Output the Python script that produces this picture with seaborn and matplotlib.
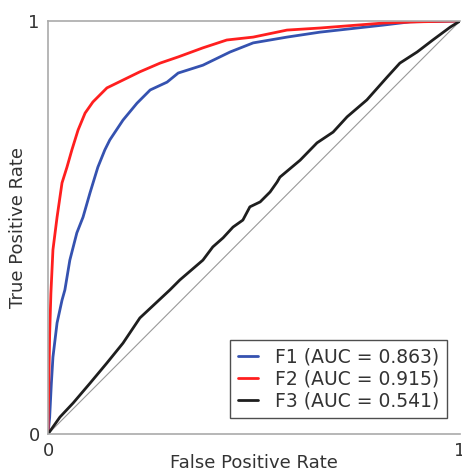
import pandas as pd
import matplotlib
matplotlib.use('Agg')
import matplotlib.pyplot as plt
import seaborn as sns

BLUE = '#3552b0'
RED = '#ff1f1f'
BLACK = '#1e1e1e'
GRAY = '#aaaaaa'

# ROC points (FPR, TPR)
f1_fpr = [0.0, 0.004, 0.008, 0.012, 0.022, 0.034, 0.041, 0.053, 0.070, 0.085, 0.102,
          0.121, 0.138, 0.150, 0.182, 0.216, 0.248, 0.289, 0.316, 0.376, 0.442,
          0.498, 0.580, 0.660, 0.813, 0.879, 1.0]
f1_tpr = [0.0, 0.04, 0.12, 0.186, 0.269, 0.324, 0.349, 0.421, 0.487, 0.525, 0.584,
          0.646, 0.688, 0.712, 0.760, 0.801, 0.833, 0.852, 0.874, 0.893, 0.925,
          0.947, 0.961, 0.973, 0.990, 0.998, 1.0]

f2_fpr = [0.0, 0.002, 0.004, 0.007, 0.012, 0.022, 0.034, 0.046, 0.058, 0.073, 0.090,
          0.109, 0.143, 0.182, 0.223, 0.272, 0.316, 0.376, 0.434, 0.498, 0.580,
          0.660, 0.813, 0.896, 1.0]
f2_tpr = [0.0, 0.12, 0.24, 0.340, 0.446, 0.525, 0.608, 0.646, 0.688, 0.736, 0.777,
          0.804, 0.838, 0.857, 0.877, 0.898, 0.913, 0.935, 0.954, 0.961, 0.978,
          0.983, 0.995, 0.998, 1.0]

f3_fpr = [0.0, 0.029, 0.061, 0.102, 0.143, 0.182, 0.223, 0.296, 0.320, 0.376, 0.400,
          0.425, 0.449, 0.473, 0.490, 0.515, 0.539, 0.556, 0.563, 0.612, 0.653,
          0.692, 0.726, 0.774, 0.823, 0.854, 0.896, 0.934, 0.976, 1.0]
f3_tpr = [0.0, 0.041, 0.075, 0.123, 0.172, 0.220, 0.281, 0.349, 0.373, 0.421, 0.453,
          0.475, 0.501, 0.518, 0.550, 0.562, 0.586, 0.610, 0.622, 0.663, 0.705,
          0.731, 0.768, 0.809, 0.864, 0.898, 0.925, 0.954, 0.985, 1.0]

labels = ['F1 (AUC = 0.863)', 'F2 (AUC = 0.915)', 'F3 (AUC = 0.541)']

sns.set_theme(style='white')
plt.rcParams['font.family'] = ['DejaVu Sans']

fig = plt.figure(figsize=(4.62, 4.73), dpi=100)
ax = fig.add_axes([48 / 462, 39 / 473, 412 / 462, 413 / 473])

ax.plot([0, 1], [0, 1], color='#999999', linewidth=0.8, zorder=1)

for fpr, tpr, col, lab in zip([f1_fpr, f2_fpr, f3_fpr], [f1_tpr, f2_tpr, f3_tpr],
                              [BLUE, RED, BLACK], labels):
    df = pd.DataFrame({'fpr': fpr, 'tpr': tpr})
    sns.lineplot(data=df, x='fpr', y='tpr', color=col, linewidth=2.0,
                 sort=False, estimator=None, label=lab, ax=ax)

ax.set_xlim(0, 1)
ax.set_ylim(0, 1)
ax.set_xticks([0, 1])
ax.set_yticks([0, 1])
ax.set_xticklabels(['0', '1'])
ax.set_yticklabels(['0', '1'])
ax.tick_params(axis='both', length=0, labelsize=13, colors='#333333')
ax.tick_params(axis='x', pad=6)
ax.tick_params(axis='y', pad=6)

ax.set_xlabel('False Positive Rate', fontsize=13, color='#333333')
ax.set_ylabel('True Positive Rate', fontsize=13, color='#333333')
ax.xaxis.set_label_coords(0.5, -29 / 413, transform=ax.transAxes)
ax.yaxis.set_label_coords(-30 / 412, 0.5, transform=ax.transAxes)
ax.xaxis.label.set_va('center')
ax.yaxis.label.set_va('center')

for side in ['left', 'top', 'bottom']:
    ax.spines[side].set_color(GRAY)
    ax.spines[side].set_linewidth(1.2)
ax.spines['right'].set_visible(False)

leg = ax.legend(loc='lower right', bbox_to_anchor=(0.968, 0.039), fontsize=13.5,
                frameon=True, fancybox=False, handlelength=1.1, handletextpad=0.9,
                borderpad=0.4, labelspacing=0.15, borderaxespad=0)
leg.get_frame().set_edgecolor('#222222')
leg.get_frame().set_linewidth(1.0)
for t in leg.get_texts():
    t.set_color('#333333')

plt.savefig('out.png', dpi=100)
